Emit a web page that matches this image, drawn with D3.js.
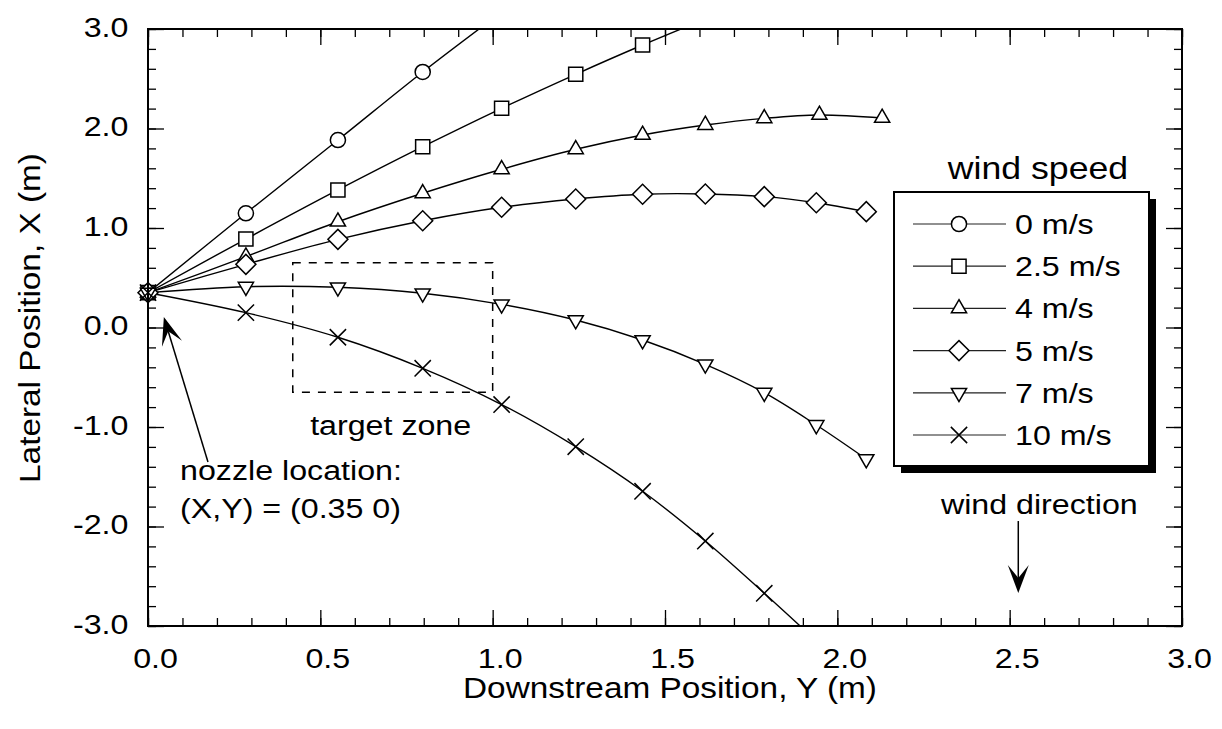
<!DOCTYPE html>
<html>
<head>
<meta charset="utf-8">
<script src="https://cdn.jsdelivr.net/npm/d3@7"></script>
<style>
  body { margin: 0; background: #fff; }
  svg { display: block; font-family: "Liberation Sans", Arial, sans-serif; }
</style>
</head>
<body>
<div class="content"></div>
<script>
//--> Data (Y = downstream, X = lateral, metres)
const windSpeeds = ["0 m/s", "2.5 m/s", "4 m/s", "5 m/s", "7 m/s", "10 m/s"];
const markerTypes = ["circle", "square", "triangle", "diamond", "triangleDown", "times"];

const downstream = [0, 0.284, 0.551, 0.797, 1.026, 1.241, 1.435, 1.617, 1.788, 1.939, 2.084];

const lateral0 = [0.35, 1.148, 1.884, 2.568, 3.17];
const lateral25 = [0.35, 0.889, 1.382, 1.817, 2.203, 2.545, 2.839, 3.10];
const downstream4 = [0, 0.284, 0.551, 0.797, 1.026, 1.241, 1.435, 1.617, 1.788, 1.948, 2.13];
const lateral4 = [0.35, 0.712, 1.063, 1.349, 1.59, 1.791, 1.935, 2.035, 2.102, 2.136, 2.106];
const lateral5 = [0.35, 0.635, 0.886, 1.073, 1.208, 1.291, 1.339, 1.342, 1.315, 1.254, 1.164];
const lateral7 = [0.35, 0.41, 0.404, 0.344, 0.233, 0.075, -0.126, -0.37, -0.655, -0.98, -1.322];
const lateral10 = [0.35, 0.149, -0.098, -0.41, -0.774, -1.198, -1.646, -2.146, -2.671, -3.15];

const xTicks = [0, 0.5, 1.0, 1.5, 2.0, 2.5, 3.0];
const yTicks = [-3, -2, -1, 0, 1, 2, 3];

// annotations, in data units
const targetZone = { y0: 0.42, y1: 1.0, x0: -0.65, x1: 0.65 };
const nozzleArrow = { from: [0.174, -1.352], to: [0.046, 0.106] };
const windArrow = { from: [2.525, -1.945], to: [2.525, -2.668] };

//--> Constants
const width = 1222;
const height = 729;
const stretch = 1.15; // the scanned lettering is a bit wide
const font = "Liberation Sans, Arial, sans-serif";

const svg = d3
  .select(".content")
  .append("svg")
  .attr("width", width)
  .attr("height", height);

const x = d3.scaleLinear().domain([0, 3]).range([148, 1182]);
const y = d3.scaleLinear().domain([-3, 3]).range([626, 29]);

//--> Helpers
const addText = (parent, px, py, str, size, anchor = "start", rot = 0) =>
  parent
    .append("text")
    .attr("transform", `translate(${px},${py}) rotate(${rot}) scale(${stretch},1)`)
    .attr("font-size", size)
    .attr("text-anchor", anchor)
    .attr("fill", "#000")
    .text(str);

const symbolFor = {
  circle: d3.symbol(d3.symbolCircle, 180),
  square: d3.symbol(d3.symbolSquare, 200),
  triangle: d3.symbol(d3.symbolTriangle, 100),
  triangleDown: d3.symbol(d3.symbolTriangle, 100),
  diamond: d3.symbol(d3.symbolSquare, 200),
  times: d3.symbol(d3.symbolTimes, 175)
};
const rotateFor = { triangleDown: 180, diamond: 45 };

const drawMarker = (parent, type, px, py) =>
  parent
    .append("path")
    .attr("d", symbolFor[type]())
    .attr("transform", `translate(${px},${py}) rotate(${rotateFor[type] || 0})`)
    .attr("fill", type === "times" ? "none" : "#fff")
    .attr("stroke", "#000")
    .attr("stroke-width", 1.5);

const drawArrow = (parent, p0, p1) => {
  const [x0, y0] = p0;
  const [x1, y1] = p1;
  const len = Math.hypot(x1 - x0, y1 - y0);
  const ux = (x1 - x0) / len;
  const uy = (y1 - y0) / len;
  const headLen = 28;
  const half = 10.5;
  const notch = 15;
  parent
    .append("line")
    .attr("x1", x0)
    .attr("y1", y0)
    .attr("x2", x1 - ux * notch)
    .attr("y2", y1 - uy * notch)
    .attr("stroke", "#000")
    .attr("stroke-width", 1.5);
  const bx = x1 - ux * headLen;
  const by = y1 - uy * headLen;
  const pts = [
    [x1, y1],
    [bx - uy * half, by + ux * half],
    [x1 - ux * notch, y1 - uy * notch],
    [bx + uy * half, by - ux * half]
  ];
  parent.append("path").attr("d", `M${pts.join("L")}Z`).attr("fill", "#000");
};

//--> Series
const series = [
  { name: windSpeeds[0], type: markerTypes[0], ys: downstream, xs: lateral0 },
  { name: windSpeeds[1], type: markerTypes[1], ys: downstream, xs: lateral25 },
  { name: windSpeeds[2], type: markerTypes[2], ys: downstream4, xs: lateral4 },
  { name: windSpeeds[3], type: markerTypes[3], ys: downstream, xs: lateral5 },
  { name: windSpeeds[4], type: markerTypes[4], ys: downstream, xs: lateral7 },
  { name: windSpeeds[5], type: markerTypes[5], ys: downstream, xs: lateral10 }
].map(s => ({ ...s, points: s.xs.map((v, i) => [s.ys[i], v]) }));

svg
  .append("clipPath")
  .attr("id", "plot-clip")
  .append("rect")
  .attr("x", x(0))
  .attr("y", y(3))
  .attr("width", x(3) - x(0))
  .attr("height", y(-3) - y(3));

const line = d3
  .line()
  .x(d => x(d[0]))
  .y(d => y(d[1]))
  .curve(d3.curveCatmullRom.alpha(0.5));

const lines = svg.append("g").attr("clip-path", "url(#plot-clip)");
lines
  .selectAll("path")
  .data(series)
  .enter()
  .append("path")
  .attr("d", d => line(d.points))
  .attr("fill", "none")
  .attr("stroke", "#000")
  .attr("stroke-width", 1.4);

const markers = svg.append("g");
series.forEach(s => {
  s.points
    .filter(p => p[1] <= 3 && p[1] >= -3)
    .forEach(p => drawMarker(markers, s.type, x(p[0]), y(p[1])));
});

//--> Axes (ticks point inwards on all four sides)
const xMinor = d3.range(0, 3.001, 0.1);
const yMinor = d3.range(-3, 3.001, 0.2);
const axes = svg.append("g");
const tidy = g => {
  g.select(".domain").remove();
  g.selectAll("line").attr("stroke", "#000").attr("stroke-width", 1.3);
};

axes.append("g").attr("transform", `translate(0,${y(-3)})`)
  .call(d3.axisBottom(x).tickValues(xMinor).tickSize(-8).tickFormat(""))
  .call(tidy);
axes.append("g").attr("transform", `translate(0,${y(3)})`)
  .call(d3.axisTop(x).tickValues(xMinor).tickSize(-8).tickFormat(""))
  .call(tidy);
axes.append("g").attr("transform", `translate(0,${y(3)})`)
  .call(d3.axisTop(x).tickValues(xTicks).tickSize(-16).tickFormat(""))
  .call(tidy);
axes.append("g").attr("transform", `translate(${x(0)},0)`)
  .call(d3.axisLeft(y).tickValues(yMinor).tickSize(-8).tickFormat(""))
  .call(tidy);
axes.append("g").attr("transform", `translate(${x(3)},0)`)
  .call(d3.axisRight(y).tickValues(yMinor).tickSize(-8).tickFormat(""))
  .call(tidy);
axes.append("g").attr("transform", `translate(${x(3)},0)`)
  .call(d3.axisRight(y).tickValues(yTicks).tickSize(-16).tickFormat(""))
  .call(tidy);

const xAxis = axes.append("g").attr("transform", `translate(0,${y(-3)})`)
  .call(d3.axisBottom(x).tickValues(xTicks).tickSize(-16).tickPadding(22).tickFormat(d => d.toFixed(1)))
  .call(tidy);
xAxis.selectAll("text")
  .attr("font-size", 28)
  .attr("font-family", font)
  .attr("fill", "#000")
  .attr("transform", `translate(7,0) scale(${stretch},1)`);

const yAxis = axes.append("g").attr("transform", `translate(${x(0)},0)`)
  .call(d3.axisLeft(y).tickValues(yTicks).tickSize(-16).tickPadding(17).tickFormat(d => d.toFixed(1)))
  .call(tidy);
yAxis.selectAll("text")
  .attr("font-size", 28)
  .attr("font-family", font)
  .attr("fill", "#000")
  .attr("dy", 7)
  .attr("transform", `scale(${stretch},1)`);

svg
  .append("rect")
  .attr("x", x(0))
  .attr("y", y(3))
  .attr("width", x(3) - x(0))
  .attr("height", y(-3) - y(3))
  .attr("fill", "none")
  .attr("stroke", "#000")
  .attr("stroke-width", 2);

addText(svg, 670, 698, "Downstream Position, Y (m)", 29, "middle");
addText(svg, 40, 318, "Lateral Position, X (m)", 29, "middle", -90);

//--> Annotations
const notes = svg.append("g");
notes
  .append("rect")
  .attr("x", x(targetZone.y0))
  .attr("y", y(targetZone.x1))
  .attr("width", x(targetZone.y1) - x(targetZone.y0))
  .attr("height", y(targetZone.x0) - y(targetZone.x1))
  .attr("fill", "none")
  .attr("stroke", "#000")
  .attr("stroke-width", 1.5)
  .attr("stroke-dasharray", "8,8");

addText(notes, x(0.704), y(-1.08), "target zone", 28, "middle");
addText(notes, x(0.093), y(-1.533), "nozzle location:", 28);
addText(notes, x(0.093), y(-1.915), "(X,Y) = (0.35 0)", 28);
addText(notes, x(2.586), y(-1.874), "wind direction", 28, "middle");

drawArrow(notes, [x(nozzleArrow.from[0]), y(nozzleArrow.from[1])], [x(nozzleArrow.to[0]), y(nozzleArrow.to[1])]);
drawArrow(notes, [x(windArrow.from[0]), y(windArrow.from[1])], [x(windArrow.to[0]), y(windArrow.to[1])]);

//--> Legend
const legend = svg.append("g").attr("id", "legend");
const box = { x: 894, y: 192, w: 255, h: 274 };
const rowTop = 224;
const rowStep = 42.2;

legend.append("rect")
  .attr("x", box.x + 7).attr("y", box.y + 7)
  .attr("width", box.w).attr("height", box.h)
  .attr("fill", "#000");
legend.append("rect")
  .attr("x", box.x).attr("y", box.y)
  .attr("width", box.w).attr("height", box.h)
  .attr("fill", "#fff")
  .attr("stroke", "#000")
  .attr("stroke-width", 2);

addText(legend, 1038, 179, "wind speed", 31, "middle");

series.forEach((s, i) => {
  const ry = rowTop + i * rowStep;
  legend.append("line")
    .attr("x1", 913).attr("x2", 1006)
    .attr("y1", ry).attr("y2", ry)
    .attr("stroke", "#222")
    .attr("stroke-width", 1.2);
  drawMarker(legend, s.type, 959, ry);
  addText(legend, 1015, ry + 10, s.name, 28);
});
</script>
</body>
</html>
